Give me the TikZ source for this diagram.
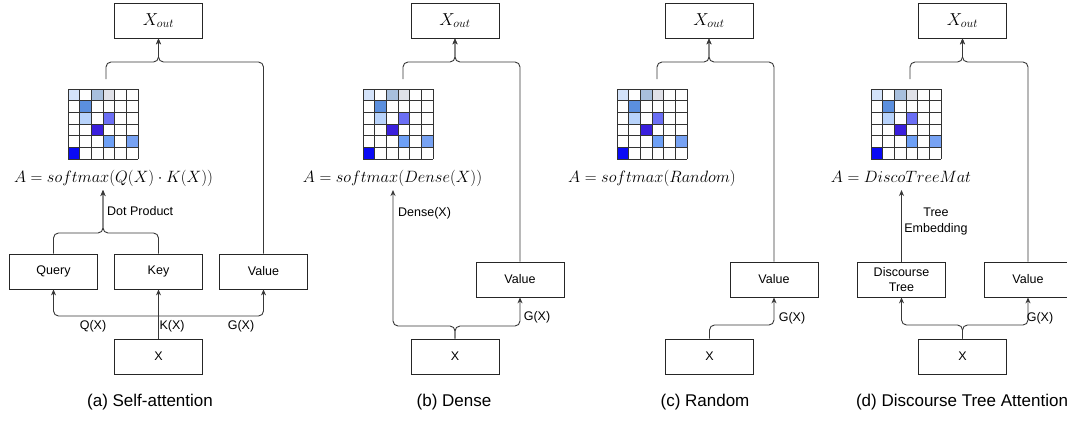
\documentclass[tikz,border=0pt]{standalone}
\usepackage{graphicx}
\usepackage{fontspec}
\setmainfont{Liberation Sans}
\usetikzlibrary{arrows.meta,calc}
\definecolor{mone}{HTML}{D4E3FA}
\definecolor{mtwo}{HTML}{A8BFDD}
\definecolor{mthree}{HTML}{E0E1E8}
\definecolor{mfour}{HTML}{5B8FDE}
\definecolor{mfive}{HTML}{B8D3FB}
\definecolor{msix}{HTML}{6B6FF5}
\definecolor{mseven}{HTML}{3A1FDD}
\definecolor{meight}{HTML}{6EA0F6}
\definecolor{mnine}{HTML}{77A2F3}
\definecolor{mten}{HTML}{0A0AF5}
\newcommand{\eqtxt}[1]{\scalebox{0.95}{$#1$}}
\tikzset{
  box/.style={draw=black!85, line width=0.8pt, minimum width=88pt, minimum height=35pt,
    inner sep=0pt, align=center, font=\fontsize{12.5}{14.5}\selectfont},
  outbox/.style={box, font=\fontsize{17.28}{19}\selectfont},
  conn/.style={draw=black!78, line width=0.9pt, rounded corners=5pt},
  arr/.style={conn, -{Stealth[length=6pt,width=5pt]}},
  lbl/.style={font=\fontsize{12.5}{16}\selectfont, inner sep=0pt, align=center},
  mathtxt/.style={font=\fontsize{17.28}{19}\selectfont, inner sep=0pt},
  captxt/.style={font=\fontsize{17}{19}\selectfont, inner sep=0pt},
  gridline/.style={draw=black!80, line width=0.6pt},
  attnmat/.pic={
    \def\mcell{11.667}
    \foreach \r/\k/\col in {0/0/mone,0/2/mtwo,0/3/mthree,1/1/mfour,2/1/mfive,2/3/msix,3/2/mseven,4/3/meight,4/5/mnine,5/0/mten}
      \fill[\col] (\k*\mcell,\r*\mcell) rectangle ++(\mcell,\mcell);
    \foreach \i in {0,...,6} {
      \draw[gridline] (\i*\mcell,0) -- (\i*\mcell,70);
      \draw[gridline] (0,\i*\mcell) -- (70,\i*\mcell);
    }
  }
}
\begin{document}
\begin{tikzpicture}[x=1pt,y=-1pt]
\useasboundingbox[fill=white] (0,0) rectangle (1067,423);

% ---------- (a) Self-attention ----------
\node[outbox] (xoA) at (158.5,20.5) {$X_{out}$};
\pic at (68,89) {attnmat};
\coordinate (mA) at (106,79);
\node[mathtxt, anchor=base] (fA) at (113.5,182) {\eqtxt{A = softmax(Q(X)\cdot K(X))}};
\node[box] (qA) at (53.5,271.5) {Query};
\node[box] (kA) at (158.5,271.5) {Key};
\node[box] (vA) at (263.5,271.5) {Value};
\node[box] (xA) at (158.5,356.5) {X};
\coordinate (tA) at (158.5,62);
\coordinate (dpA) at (103,233);
\coordinate (fAin) at (103,190);
\coordinate (jA) at (158.5,316);
\draw[arr] (mA) |- (tA) -- (xoA.south);
\draw[arr] (vA.north) |- (tA) -- (xoA.south);
\draw[arr] (qA.north) |- (dpA) -- (fAin);
\draw[arr] (kA.north) |- (dpA) -- (fAin);
\node[lbl, anchor=west] (lDot) at (107,211) {Dot Product};
\draw[arr] (xA.north) -- (kA.south);
\draw[arr] (jA) -| (qA.south);
\draw[arr] (jA) -| (vA.south);
\node[lbl] (lQ) at (93,326) {Q(X)};
\node[lbl] (lK) at (172,326) {K(X)};
\node[lbl] (lG) at (241,326) {G(X)};
\node[captxt] (cA) at (150,402) {(a) Self-attention};

% ---------- (b) Dense ----------
\node[outbox] (xoB) at (455,20.5) {$X_{out}$};
\pic at (363,89) {attnmat};
\coordinate (mB) at (403,79);
\node[mathtxt, anchor=base] (fB) at (392.5,182) {\eqtxt{A = softmax(Dense(X))}};
\node[box] (vB) at (520,279.5) {Value};
\node[box] (xB) at (455,356.5) {X};
\coordinate (tB) at (455,62);
\coordinate (jB) at (455,326);
\coordinate (fBin) at (393,190);
\draw[arr] (mB) |- (tB) -- (xoB.south);
\draw[arr] (vB.north) |- (tB) -- (xoB.south);
\draw[arr] (xB.north) -- (jB) -| (fBin);
\draw[arr] (xB.north) -- (jB) -| (vB.south);
\node[lbl, anchor=west] (lDense) at (398,213) {Dense(X)};
\node[lbl] (lGB) at (537,317) {G(X)};
\node[captxt] (cB) at (454,402) {(b) Dense};

% ---------- (c) Random ----------
\node[outbox] (xoC) at (709,20.5) {$X_{out}$};
\pic at (617,89) {attnmat};
\coordinate (mC) at (657,79);
\node[mathtxt, anchor=base] (fC) at (652,182) {\eqtxt{A = softmax(Random)}};
\node[box] (vC) at (774,279.5) {Value};
\node[box] (xC) at (709.5,356.5) {X};
\coordinate (tC) at (709,62);
\coordinate (jC) at (709.5,325);
\draw[arr] (mC) |- (tC) -- (xoC.south);
\draw[arr] (vC.north) |- (tC) -- (xoC.south);
\draw[arr] (xC.north) -- (jC) -| (vC.south);
\node[lbl] (lGC) at (792,318) {G(X)};
\node[captxt] (cC) at (705,402) {(c) Random};

% ---------- (d) Discourse Tree Attention ----------
\node[outbox] (xoD) at (962.5,20.5) {$X_{out}$};
\pic at (871,89) {attnmat};
\coordinate (mD) at (910,79);
\node[mathtxt, anchor=base] (fD) at (901,182) {\eqtxt{A = DiscoTreeMat}};
\node[box] (dtD) at (901.5,279.5) {Discourse\\Tree};
\node[box] (vD) at (1028,279.5) {Value};
\node[box] (xD) at (962.5,356.5) {X};
\coordinate (tD) at (962.5,62);
\coordinate (jD) at (962.5,325);
\coordinate (fDin) at (901.5,190);
\draw[arr] (mD) |- (tD) -- (xoD.south);
\draw[arr] (vD.north) |- (tD) -- (xoD.south);
\draw[arr] (dtD.north) -- (fDin);
\draw[arr] (xD.north) -- (jD) -| (dtD.south);
\draw[arr] (xD.north) -- (jD) -| (vD.south);
\node[lbl] (lTE) at (936,221) {Tree\\Embedding};
\node[lbl] (lGD) at (1040,318) {G(X)};
\node[captxt] (cD) at (962,402) {(d) Discourse Tree Attention};
\end{tikzpicture}
\end{document}
